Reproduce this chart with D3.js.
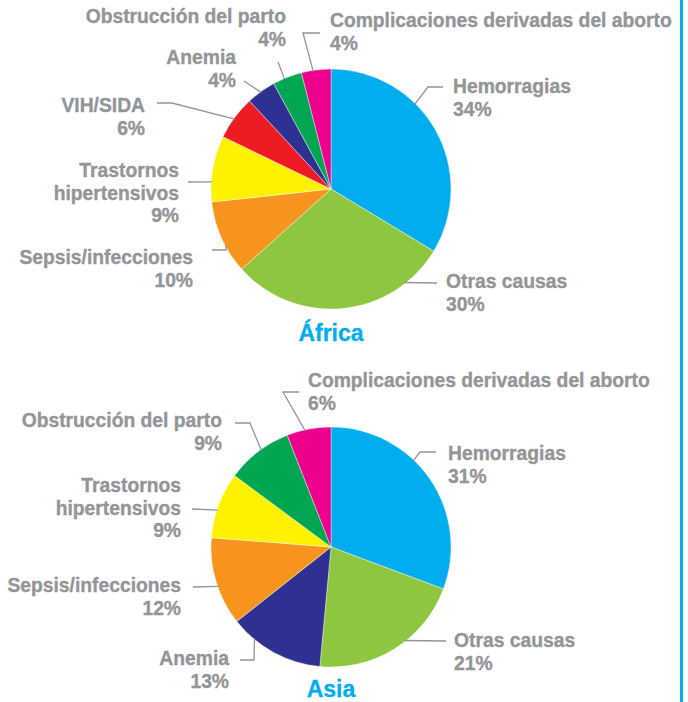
<!DOCTYPE html>
<html>
<head>
<meta charset="utf-8">
<script src="https://cdn.jsdelivr.net/npm/d3@7"></script>
<style>
  body { margin: 0; background: #fff; }
  svg text { font-family: "Liberation Sans", Arial, sans-serif; font-weight: bold; }
</style>
</head>
<body>
<div id="chart"></div>
<script>
// data
var africaCauses = ["Hemorragias", "Otras causas", "Sepsis/infecciones", "Trastornos hipertensivos",
  "VIH/SIDA", "Anemia", "Obstrucción del parto", "Complicaciones derivadas del aborto"];
var africaValues = [34, 30, 10, 9, 6, 4, 4, 4];

var asiaCauses = ["Hemorragias", "Otras causas", "Anemia", "Sepsis/infecciones",
  "Trastornos hipertensivos", "Obstrucción del parto", "Complicaciones derivadas del aborto"];
var asiaValues = [31, 21, 13, 12, 9, 9, 6];

var colors = {
  "Hemorragias": "#00aeef",
  "Otras causas": "#8dc63f",
  "Sepsis/infecciones": "#f7941d",
  "Trastornos hipertensivos": "#fff200",
  "VIH/SIDA": "#ed1c24",
  "Anemia": "#2e3192",
  "Obstrucción del parto": "#00a651",
  "Complicaciones derivadas del aborto": "#ec008c"
};

// label layout (relative to pie centre): text anchor, lines, rim angle and leader points
var africaLabels = {
  "Hemorragias": { x: 122, y: -96, anchor: "start", lines: ["Hemorragias"], ang: 44.7, pts: [[97, -102], [112, -102]] },
  "Otras causas": { x: 115, y: 99, anchor: "start", lines: ["Otras causas"], ang: 141.8, pts: [[106, 94]] },
  "Sepsis/infecciones": { x: -138, y: 75, anchor: "end", lines: ["Sepsis/infecciones"], ang: -118, pts: [[-105, 61], [-119, 61]] },
  "Trastornos hipertensivos": { x: -152, y: -12, anchor: "end", lines: ["Trastornos", "hipertensivos"], ang: -86.6, pts: [[-143, -7]] },
  "VIH/SIDA": { x: -186, y: -77, anchor: "end", lines: ["VIH/SIDA"], ang: -54, pts: [[-159, -86], [-174, -86]] },
  "Anemia": { x: -95, y: -125, anchor: "end", lines: ["Anemia"], ang: -35.8, pts: [[-87, -108]] },
  "Obstrucción del parto": { x: -45, y: -166, anchor: "end", lines: ["Obstrucción del parto"], ang: -22.9, pts: [[-53, -127]] },
  "Complicaciones derivadas del aborto": { x: -1, y: -162, anchor: "start", lines: ["Complicaciones derivadas del aborto"], ang: -8.6, pts: [[-28, -156], [-11, -156]] }
};

var asiaLabels = {
  "Hemorragias": { x: 117, y: -87, anchor: "start", lines: ["Hemorragias"], ang: 43.7, pts: [[89, -95], [105, -95]] },
  "Otras causas": { x: 123, y: 100, anchor: "start", lines: ["Otras causas"], ang: 141.8, pts: [[115, 94]] },
  "Anemia": { x: -102, y: 118, anchor: "end", lines: ["Anemia"], ang: -140, pts: [[-77, 113], [-91, 113]] },
  "Sepsis/infecciones": { x: -150, y: 45, anchor: "end", lines: ["Sepsis/infecciones"], ang: -109.3, pts: [[-138, 40]] },
  "Trastornos hipertensivos": { x: -150, y: -55, anchor: "end", lines: ["Trastornos", "hipertensivos"], ang: -71.9, pts: [[-139, -38]] },
  "Obstrucción del parto": { x: -109, y: -120, anchor: "end", lines: ["Obstrucción del parto"], ang: -35.8, pts: [[-81, -124], [-96, -124]] },
  "Complicaciones derivadas del aborto": { x: -23, y: -160, anchor: "start", lines: ["Complicaciones derivadas del aborto"], ang: -12.5, pts: [[-48, -155], [-32, -155]] }
};

var width = 688, height = 702, radius = 120;
var labelColor = "#939598";

var svg = d3.select("#chart").append("svg")
  .attr("width", width)
  .attr("height", height);

// blue rule on the right
svg.append("rect")
  .attr("x", 680).attr("y", 0)
  .attr("width", 3).attr("height", height)
  .attr("fill", "#00aeef");

function drawPie(cx, cy, causes, values, labels, title, titleY) {
  var data = causes.map(function (c, i) { return { cause: c, value: values[i] }; });
  var pie = d3.pie().sort(null).value(function (d) { return d.value; });
  var arc = d3.arc().innerRadius(0).outerRadius(radius);

  var g = svg.append("g").attr("transform", "translate(" + cx + "," + cy + ")");

  g.selectAll("path.slice")
    .data(pie(data))
    .enter()
    .append("path")
    .attr("class", "slice")
    .attr("d", arc)
    .attr("fill", function (d) { return colors[d.data.cause]; })
    .attr("stroke", "#fff")
    .attr("stroke-width", 0.4);

  data.forEach(function (d) {
    var l = labels[d.cause];
    var start = d3.pointRadial(l.ang * Math.PI / 180, radius - 1);
    g.append("polyline")
      .attr("points", [start].concat(l.pts).map(function (p) { return p.join(","); }).join(" "))
      .attr("fill", "none")
      .attr("stroke", labelColor)
      .attr("stroke-width", 1.3);

    var t = g.append("text")
      .attr("x", l.x)
      .attr("y", l.y)
      .attr("text-anchor", l.anchor)
      .attr("fill", labelColor)
      .attr("stroke", labelColor)
      .attr("stroke-width", 0.35)
      .style("font-size", "19.3px");
    l.lines.concat([d.value + "%"]).forEach(function (s, i) {
      t.append("tspan").attr("x", l.x).attr("dy", i === 0 ? 0 : 22.5).text(s);
    });
  });

  svg.append("text")
    .attr("x", cx)
    .attr("y", titleY)
    .attr("text-anchor", "middle")
    .attr("fill", "#00aeef")
    .attr("stroke", "#00aeef")
    .attr("stroke-width", 0.3)
    .style("font-size", "23px")
    .text(title);
}

drawPie(331, 189, africaCauses, africaValues, africaLabels, "África", 341);
drawPie(331, 547, asiaCauses, asiaValues, asiaLabels, "Asia", 697);
</script>
</body>
</html>
